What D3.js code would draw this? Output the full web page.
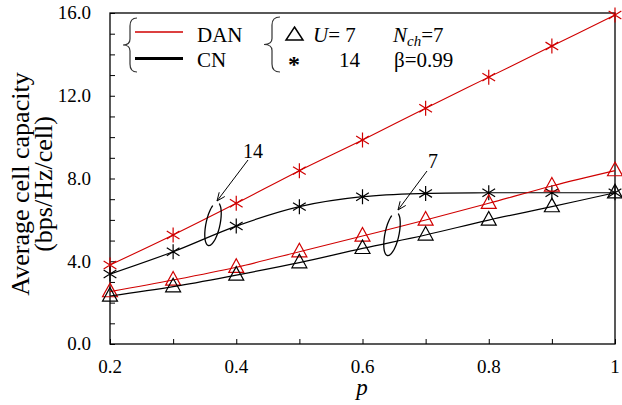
<!DOCTYPE html>
<html><head><meta charset="utf-8">
<script src="https://cdn.jsdelivr.net/npm/d3@7"></script>
<style>body{margin:0;background:#fff}svg{display:block}text{font-family:"Liberation Serif","Times New Roman",serif}</style>
</head><body><svg id="c" width="622" height="405"></svg>
<script>
const pValues = [0.2,0.3,0.4,0.5,0.6,0.7,0.8,0.9,1.0];
const danU14 = [3.82,5.27,6.80,8.38,9.86,11.4,12.9,14.4,15.9];
const cnU14  = [3.38,4.46,5.70,6.64,7.12,7.28,7.31,7.31,7.31];
const danU7  = [2.53,3.09,3.71,4.46,5.22,5.99,6.80,7.64,8.38];
const cnU7   = [2.32,2.77,3.33,3.93,4.62,5.27,5.99,6.64,7.31];
const xTickLabels = [0.2,0.4,0.6,0.8,1];
const yTickLabels = [0,4,8,12,16];

const svg = d3.select("#c");
const L=110,R=615,T=13,B=344;
const x = d3.scaleLinear().domain([0.2,1]).range([L,R]);
const y = d3.scaleLinear().domain([0,16]).range([B,T]);

svg.append("rect").attr("x",L).attr("y",T).attr("width",R-L).attr("height",B-T)
  .attr("fill","none").attr("stroke","#000").attr("stroke-width",1.3);

const xa = svg.append("g").attr("transform",`translate(0,${B})`)
  .call(d3.axisBottom(x).tickValues(d3.range(0.2,1.0001,0.1)).tickSize(-5).tickFormat(""));
xa.select(".domain").remove();
xa.selectAll(".tick line").attr("stroke","#000");
svg.append("g").selectAll("text").data(xTickLabels).join("text")
  .attr("x",d=>x(d)).attr("y",373).attr("text-anchor","middle").attr("font-size",19)
  .text(d=>d===1?"1":d3.format(".1f")(d));

const ya = svg.append("g").attr("transform",`translate(${L},0)`)
  .call(d3.axisLeft(y).tickValues(d3.range(0,16.001,1)).tickSize(-5).tickFormat(""));
ya.select(".domain").remove();
ya.selectAll(".tick line").attr("stroke","#000");
svg.append("g").selectAll("text").data(yTickLabels).join("text")
  .attr("x",91).attr("y",d=>y(d)).attr("dy","0.33em").attr("text-anchor","end").attr("font-size",19)
  .text(d=>d3.format(".1f")(d));

svg.append("text").attr("x",362).attr("y",395).attr("text-anchor","middle")
  .attr("font-size",23).attr("font-style","italic").text("p");
const yt = svg.append("text").attr("transform","translate(0,184) rotate(-90)").attr("text-anchor","middle").attr("font-size",26);
yt.append("tspan").attr("x",0).attr("y",29).text("Average cell capacity");
yt.append("tspan").attr("x",0).attr("y",52).text("(bps/Hz/cell)");

const line = d3.line().x((d,i)=>x(pValues[i])).y(d=>y(d)).curve(d3.curveCatmullRom.alpha(0.5));
const series = [
  {v:danU14,c:"#d00000",m:"star",w:1.1},
  {v:cnU14,c:"#000",m:"star",w:1.2},
  {v:danU7,c:"#d00000",m:"tri",w:1.1},
  {v:cnU7,c:"#000",m:"tri",w:1.2}
];
const starPath = (r)=>{let s="";[90,32,148].forEach(a=>{const dx=r*Math.cos(a*Math.PI/180),dy=r*Math.sin(a*Math.PI/180);s+=`M${-dx},${-dy}L${dx},${dy}`});return s;};
const triPath = (r)=>`M0,${-r}L${r*0.88},${r*0.6}L${-r*0.88},${r*0.6}Z`;
series.forEach(s=>{
  svg.append("path").attr("d",line(s.v)).attr("fill","none").attr("stroke",s.c).attr("stroke-width",s.w);
  svg.append("g").selectAll("path").data(s.v).join("path")
    .attr("transform",(d,i)=>`translate(${x(pValues[i])},${y(d)})`)
    .attr("d",s.m==="star"?starPath(7.5):triPath(8.5))
    .attr("fill","none")
    .attr("stroke",s.c).attr("stroke-width",1.2);
});

function loop(cx,cy,rx,ry,rot){
  const pts=d3.range(-75,240,5).map(a=>{const t=a*Math.PI/180;return [rx*Math.cos(t),ry*Math.sin(t)]});
  svg.append("path").attr("d",d3.line().curve(d3.curveBasis)(pts)).attr("transform",`translate(${cx},${cy}) rotate(${rot})`)
    .attr("fill","none").attr("stroke","#000").attr("stroke-width",1.3);
}
loop(213,224,7,22,12);
loop(392,234,7,22,12);
function arrow(x1,y1,x2,y2){
  svg.append("line").attr("x1",x1).attr("y1",y1).attr("x2",x2).attr("y2",y2).attr("stroke","#000").attr("stroke-width",1);
  const a=Math.atan2(y2-y1,x2-x1),h=9,w=0.4;
  svg.append("path").attr("d",`M${x2-h*Math.cos(a-w)},${y2-h*Math.sin(a-w)}L${x2},${y2}L${x2-h*Math.cos(a+w)},${y2-h*Math.sin(a+w)}`)
    .attr("fill","none").attr("stroke","#000").attr("stroke-width",1);
}
arrow(248,160,217,201);
arrow(427,171,398,210);
svg.append("text").attr("x",253).attr("y",158).attr("text-anchor","middle").attr("font-size",20).text("14");
svg.append("text").attr("x",433).attr("y",168).attr("text-anchor","middle").attr("font-size",20).text("7");

function brace(x0,y0,y1,w){
  const m=(y0+y1)/2;
  const p=`M${x0+w},${y0} Q${x0},${y0} ${x0},${y0+8} L${x0},${m-6} Q${x0},${m} ${x0-w},${m} Q${x0},${m} ${x0},${m+6} L${x0},${y1-8} Q${x0},${y1} ${x0+w},${y1}`;
  svg.append("path").attr("d",p).attr("fill","none").attr("stroke","#333").attr("stroke-width",1.2);
}
brace(130,18,72,7);
brace(272,17,72,8);
svg.append("line").attr("x1",135).attr("x2",183).attr("y1",32).attr("y2",32).attr("stroke","#d00000").attr("stroke-width",1.5);
svg.append("line").attr("x1",135).attr("x2",183).attr("y1",58.5).attr("y2",58.5).attr("stroke","#000").attr("stroke-width",2.8);
svg.append("text").attr("x",197).attr("y",42).attr("font-size",21).text("DAN");
svg.append("text").attr("x",197).attr("y",67).attr("font-size",21).text("CN");
svg.append("path").attr("d","M0,-7L8.5,6L-8.5,6Z").attr("transform","translate(294.5,34)").attr("fill","none").attr("stroke","#000").attr("stroke-width",1.5);
const t1=svg.append("text").attr("x",313).attr("y",42).attr("font-size",21);
t1.append("tspan").attr("font-style","italic").text("U");
t1.append("tspan").text("= 7");
svg.append("text").attr("x",294).attr("y",72).attr("text-anchor","middle").attr("font-size",24).attr("font-weight","bold").text("*");
svg.append("text").attr("x",339).attr("y",67).attr("font-size",21).text("14");
const t2=svg.append("text").attr("x",393).attr("y",42).attr("font-size",21);
t2.append("tspan").attr("font-style","italic").text("N");
t2.append("tspan").attr("font-style","italic").attr("font-size",15).attr("dy",4).text("ch");
t2.append("tspan").attr("dy",-4).text("=7");
svg.append("text").attr("x",394).attr("y",67).attr("font-size",21).text("β=0.99");
</script></body></html>
